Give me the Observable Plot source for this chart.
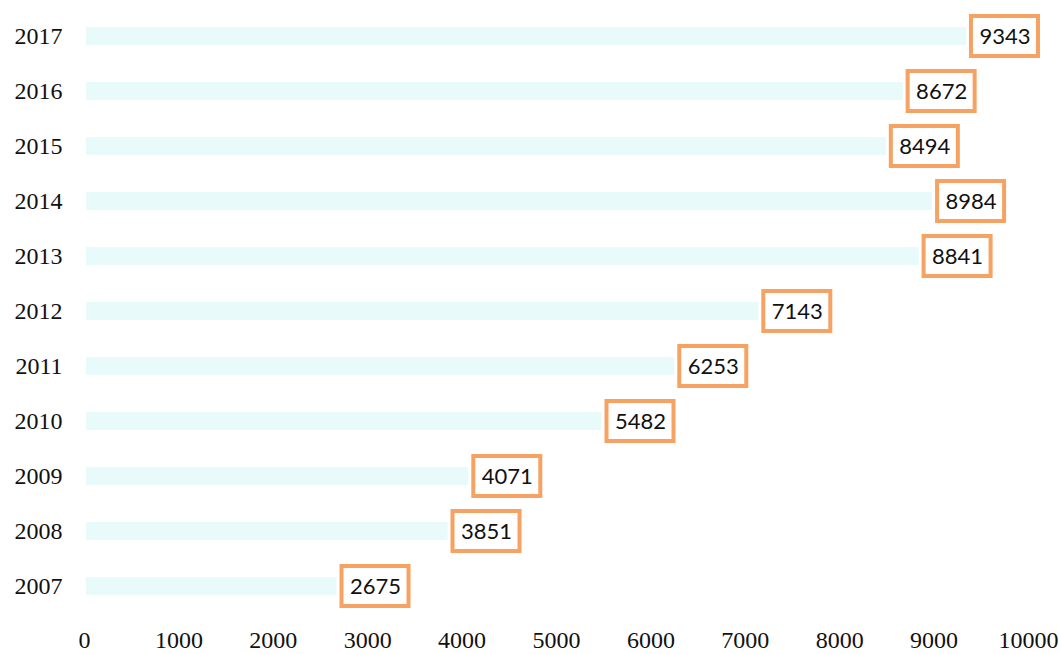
<!DOCTYPE html>
<html><head><meta charset="utf-8">
<script src="https://cdn.jsdelivr.net/npm/d3@7"></script>
<script src="https://cdn.jsdelivr.net/npm/@observablehq/plot@0.6"></script>
<style>body{margin:0;background:#fff}</style>
</head><body><div id="chart"></div>
<script>
const years = ["2007","2008","2009","2010","2011","2012","2013","2014","2015","2016","2017"];
const values = [2675,3851,4071,5482,6253,7143,8841,8984,8494,8672,9343];
const xTicks = [0,1000,2000,3000,4000,5000,6000,7000,8000,9000,10000];
const data = years.map((y,i)=>({year:y, value:values[i]}));

const chart = Plot.plot({
  width: 1059, height: 654,
  marginLeft: 84, marginRight: 31, marginTop: 8.5, marginBottom: 39.5,
  style: {fontFamily: "'Liberation Serif', serif", fontSize: "24px", color: "#111", background: "#fff"},
  x: {domain: [0,10000], ticks: xTicks, tickFormat: d => String(d), tickSize: 0, tickPadding: 16, label: null},
  y: {domain: years.slice().reverse(), paddingInner: 0.67, paddingOuter: 0.335, tickSize: 0, tickPadding: 22, label: null},
  marks: [
    Plot.barX(data, {x: "value", y: "year", fill: "#e9fafa", insetLeft: 2}),
    Plot.rect(data, {x1: "value", x2: "value", y: "year", dx: 5, insetLeft: 0, insetRight: -67, insetTop: -11, insetBottom: -11, fill: "#fff", stroke: "#f5a263", strokeWidth: 4}),
    Plot.text(data, {x: "value", y: "year", text: d => String(d.value), dx: 38.5, fontFamily: "Lato, sans-serif", fontSize: 22, fill: "#111"})
  ]
});
document.getElementById("chart").appendChild(chart);
</script>
</body></html>
